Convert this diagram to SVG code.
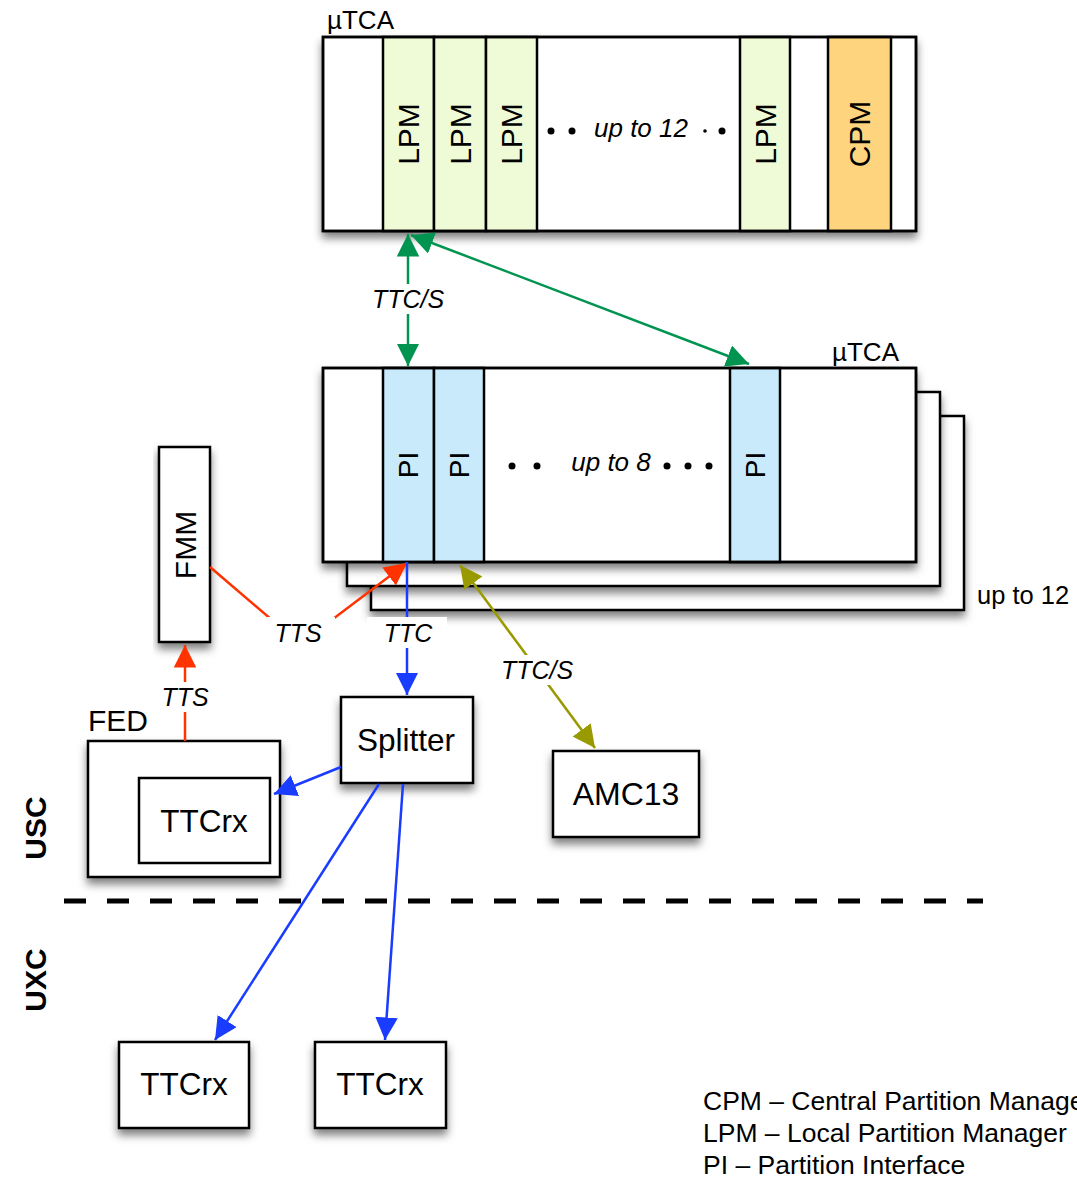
<svg xmlns="http://www.w3.org/2000/svg" width="1077" height="1180" viewBox="0 0 1077 1180">
<style>
text{font-family:"Liberation Sans",Arial,sans-serif;fill:#000}
.box{fill:#fff;stroke:#000;stroke-width:2.5}
.lpm{fill:#effad6;stroke:#000;stroke-width:2.5}
.cpm{fill:#fed47f;stroke:#000;stroke-width:2.5}
.pi{fill:#c9eafb;stroke:#000;stroke-width:2.5}
.lbl{font-size:31.5px}
.rot{font-size:30px}
.it{font-style:italic;font-size:25px}
.bg{fill:#fff}
.g{stroke:#009450;stroke-width:2.5;fill:none}
.r{stroke:#ff3300;stroke-width:2.5;fill:none}
.b{stroke:#1a3cff;stroke-width:2.5;fill:none}
.o{stroke:#999900;stroke-width:2.5;fill:none}
.leg{font-size:26.5px}
.zone{font-size:30px;font-weight:bold}
</style>
<defs>
<filter id="sh" x="-10%" y="-10%" width="130%" height="140%">
<feDropShadow dx="0" dy="6" stdDeviation="4.5" flood-color="#000" flood-opacity="0.5"/>
</filter>
<marker id="ag" viewBox="0 0 10 10" refX="10" refY="5" markerWidth="9" markerHeight="9" orient="auto-start-reverse"><path d="M0,0 L10,5 L0,10 z" fill="#009450"/></marker>
<marker id="ar" viewBox="0 0 10 10" refX="10" refY="5" markerWidth="9" markerHeight="9" orient="auto-start-reverse"><path d="M0,0 L10,5 L0,10 z" fill="#ff3300"/></marker>
<marker id="ab" viewBox="0 0 10 10" refX="10" refY="5" markerWidth="9" markerHeight="9" orient="auto-start-reverse"><path d="M0,0 L10,5 L0,10 z" fill="#1a3cff"/></marker>
<marker id="ao" viewBox="0 0 10 10" refX="10" refY="5" markerWidth="9" markerHeight="9" orient="auto-start-reverse"><path d="M0,0 L10,5 L0,10 z" fill="#999900"/></marker>
</defs>
<rect width="1077" height="1180" fill="#fff"/>

<g id="utca-top">
<text x="327" y="29" style="font-size:26px">µTCA</text>
<rect class="box" x="323" y="37" width="593" height="194" filter="url(#sh)"/>
<rect class="lpm" x="383" y="37" width="51" height="194"/>
<rect class="lpm" x="434" y="37" width="52" height="194"/>
<rect class="lpm" x="486" y="37" width="51" height="194"/>
<rect class="lpm" x="740" y="37" width="50" height="194"/>
<rect class="cpm" x="828" y="37" width="63" height="194"/>
<rect x="323" y="37" width="593" height="194" fill="none" stroke="#000" stroke-width="2.5"/>
<text class="rot" transform="translate(408,134) rotate(-90)" text-anchor="middle" dominant-baseline="central">LPM</text>
<text class="rot" transform="translate(460,134) rotate(-90)" text-anchor="middle" dominant-baseline="central">LPM</text>
<text class="rot" transform="translate(511,134) rotate(-90)" text-anchor="middle" dominant-baseline="central">LPM</text>
<text class="rot" transform="translate(765,134) rotate(-90)" text-anchor="middle" dominant-baseline="central">LPM</text>
<text class="rot" transform="translate(859,134) rotate(-90)" text-anchor="middle" dominant-baseline="central">CPM</text>
<circle cx="551" cy="131" r="3.5"/><circle cx="572" cy="131" r="3.5"/>
<text class="it" x="641" y="137" text-anchor="middle" style="font-size:26px">up to 12</text>
<circle cx="705" cy="131" r="1.8"/><circle cx="722" cy="131" r="3.5"/>
</g>

<g id="utca-stack">
<rect class="box" x="371" y="416" width="593" height="194" filter="url(#sh)"/>
<rect class="box" x="347" y="392" width="593" height="194" filter="url(#sh)"/>
<rect class="box" x="323" y="368" width="593" height="194" filter="url(#sh)"/>
<rect class="pi" x="383" y="368" width="51" height="194"/>
<rect class="pi" x="434" y="368" width="50" height="194"/>
<rect class="pi" x="730" y="368" width="50" height="194"/>
<rect x="323" y="368" width="593" height="194" fill="none" stroke="#000" stroke-width="2.5"/>
<text class="rot" transform="translate(408,465) rotate(-90)" text-anchor="middle" dominant-baseline="central" style="font-size:28px">PI</text>
<text class="rot" transform="translate(459,465) rotate(-90)" text-anchor="middle" dominant-baseline="central" style="font-size:28px">PI</text>
<text class="rot" transform="translate(755,465) rotate(-90)" text-anchor="middle" dominant-baseline="central" style="font-size:28px">PI</text>
<circle cx="512" cy="466" r="3.5"/><circle cx="537" cy="466" r="3.5"/>
<text class="it" x="611" y="471" text-anchor="middle" style="font-size:26px">up to 8</text>
<circle cx="667" cy="466" r="3.5"/><circle cx="688" cy="466" r="3.5"/><circle cx="709" cy="466" r="3.5"/>
<text x="832" y="361" style="font-size:26px">µTCA</text>
<text x="977" y="604" style="font-size:25.5px">up to 12</text>
</g>

<g id="fmm">
<rect class="box" x="159" y="447" width="51" height="195" filter="url(#sh)"/>
<text class="rot" transform="translate(185,545) rotate(-90)" text-anchor="middle" dominant-baseline="central">FMM</text>
</g>

<g id="fed">
<text x="88" y="731" style="font-size:30px">FED</text>
<rect class="box" x="88" y="741" width="192" height="136" filter="url(#sh)"/>
<rect class="box" x="139" y="778" width="131" height="85"/>
<text class="lbl" x="204" y="821" text-anchor="middle" dominant-baseline="central">TTCrx</text>
</g>

<g id="splitter">
<rect class="box" x="341" y="697" width="132" height="86" filter="url(#sh)"/>
<text class="lbl" x="406" y="740" text-anchor="middle" dominant-baseline="central">Splitter</text>
</g>

<g id="amc13">
<rect class="box" x="553" y="751" width="146" height="86" filter="url(#sh)"/>
<text class="lbl" x="626" y="794" text-anchor="middle" dominant-baseline="central" style="font-size:32px">AMC13</text>
</g>

<g id="ttcrx1">
<rect class="box" x="119" y="1042" width="130" height="86" filter="url(#sh)"/>
<text class="lbl" x="184" y="1084" text-anchor="middle" dominant-baseline="central">TTCrx</text>
</g>

<g id="ttcrx2">
<rect class="box" x="315" y="1042" width="131" height="86" filter="url(#sh)"/>
<text class="lbl" x="380" y="1084" text-anchor="middle" dominant-baseline="central">TTCrx</text>
</g>

<g id="zones">
<line x1="64" y1="901" x2="983" y2="901" stroke="#000" stroke-width="5" stroke-dasharray="22 21"/>
<text class="zone" transform="translate(35,828) rotate(-90)" text-anchor="middle" dominant-baseline="central">USC</text>
<text class="zone" transform="translate(35,980) rotate(-90)" text-anchor="middle" dominant-baseline="central">UXC</text>
</g>

<g id="connectors">
<line class="g" x1="408" y1="234" x2="408" y2="366" marker-start="url(#ag)" marker-end="url(#ag)"/>
<line class="g" x1="411" y1="235" x2="749" y2="364" marker-start="url(#ag)" marker-end="url(#ag)"/>
<rect class="bg" x="368" y="284" width="80" height="30"/>
<text class="it" x="408" y="299" text-anchor="middle" dominant-baseline="central">TTC/S</text>

<path class="r" d="M210,567 L300,644 L407,563" marker-end="url(#ar)"/>
<rect class="bg" x="257" y="617" width="78" height="32"/>
<text class="it" x="298" y="633" text-anchor="middle" dominant-baseline="central">TTS</text>

<line class="b" x1="407" y1="562" x2="407" y2="695" marker-end="url(#ab)"/>
<rect class="bg" x="367" y="617" width="80" height="31"/>
<text class="it" x="408" y="633" text-anchor="middle" dominant-baseline="central">TTC</text>

<line class="o" x1="460" y1="565" x2="595" y2="748" marker-start="url(#ao)" marker-end="url(#ao)"/>
<rect class="bg" x="497" y="655" width="80" height="30"/>
<text class="it" x="537" y="670" text-anchor="middle" dominant-baseline="central">TTC/S</text>

<line class="r" x1="185" y1="741" x2="185" y2="645" marker-end="url(#ar)"/>
<rect class="bg" x="158" y="682" width="54" height="30"/>
<text class="it" x="185" y="697" text-anchor="middle" dominant-baseline="central">TTS</text>

<line class="b" x1="341" y1="767" x2="274" y2="794" marker-end="url(#ab)"/>
<line class="b" x1="379" y1="784" x2="215" y2="1040" marker-end="url(#ab)"/>
<line class="b" x1="403" y1="784" x2="385" y2="1040" marker-end="url(#ab)"/>
</g>

<g id="legend">
<text class="leg" x="703" y="1110">CPM – Central Partition Manager</text>
<text class="leg" x="703" y="1142">LPM – Local Partition Manager</text>
<text class="leg" x="703" y="1174">PI – Partition Interface</text>
</g>
</svg>
